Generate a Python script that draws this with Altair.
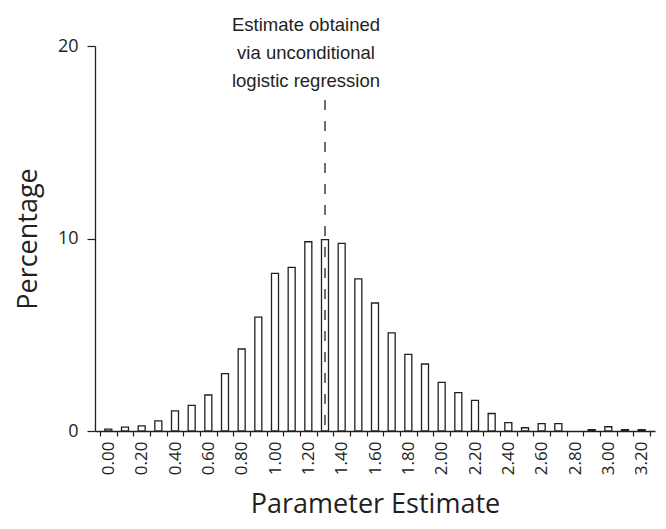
import altair as alt
import pandas as pd

# Bin centres (parameter estimate) and percentage of simulations
centers = [0.00, 0.10, 0.20, 0.30, 0.40, 0.50, 0.60, 0.70, 0.80, 0.90,
           1.00, 1.10, 1.20, 1.30, 1.40, 1.50, 1.60, 1.70, 1.80, 1.90,
           2.00, 2.10, 2.20, 2.30, 2.40, 2.50, 2.60, 2.70, 2.80, 2.90,
           3.00, 3.10, 3.20]
percent = [0.10, 0.20, 0.27, 0.53, 1.05, 1.33, 1.87, 2.98, 4.26, 5.92,
           8.19, 8.50, 9.83, 9.94, 9.75, 7.90, 6.65, 5.10, 3.98, 3.48,
           2.53, 1.99, 1.59, 0.91, 0.43, 0.17, 0.38, 0.38, 0.00, 0.07,
           0.22, 0.07, 0.07]
x_labels = [0.0, 0.2, 0.4, 0.6, 0.8, 1.0, 1.2, 1.4, 1.6, 1.8, 2.0, 2.2,
            2.4, 2.6, 2.8, 3.0, 3.2]
y_ticks = [0, 10, 20]
estimate = 1.30
annotation = ["Estimate obtained", "via unconditional", "logistic regression"]

edges = [round(c - 0.05, 2) for c in centers] + [round(centers[-1] + 0.05, 2)]

df = pd.DataFrame({"center": centers, "pct": percent})

INK = "#231f20"
FONT = "Open Sans"
xscale = alt.Scale(domain=[-0.05, 3.25], nice=False, zero=False)
yscale = alt.Scale(domain=[0, 20], nice=False)

bars = alt.Chart(df).transform_filter("datum.pct > 0").mark_bar(
    size=7, fill="white", stroke=INK, strokeWidth=1.3
).encode(
    x=alt.X("center:Q", scale=xscale,
            axis=alt.Axis(orient="bottom", values=edges, labels=False, title=None,
                          tickSize=5, tickColor=INK, tickWidth=1.2,
                          domainColor=INK, domainWidth=1.3, grid=False)),
    y=alt.Y("pct:Q", scale=yscale,
            axis=alt.Axis(orient="left", values=y_ticks, title="Percentage", tickSize=8,
                          tickColor=INK, tickWidth=1.2, domainColor=INK,
                          domainWidth=1.3, labelFont=FONT, labelFontSize=18,
                          labelColor=INK, labelPadding=9, titleFont=FONT,
                          titleFontSize=27, titleFontWeight="normal",
                          titleColor=INK, titlePadding=15, grid=False)),
)

rule_df = pd.DataFrame({"x": [estimate], "y": [17.2], "y2": [-0.1]})
rule = alt.Chart(rule_df).mark_rule(
    color=INK, strokeWidth=1.3, strokeDash=[10, 11]
).encode(
    x=alt.X("x:Q", scale=xscale,
            axis=alt.Axis(orient="bottom", values=x_labels, format=".2f",
                          ticks=False, domain=False, labelAngle=-90,
                          labelFont=FONT, labelFontSize=17, labelColor=INK,
                          labelPadding=10, title="Parameter Estimate",
                          titleFont=FONT, titleFontSize=27,
                          titleFontWeight="normal", titleColor=INK,
                          titlePadding=17, grid=False)),
    y=alt.Y("y:Q", scale=yscale, axis=None),
    y2="y2:Q",
)

ann_df = pd.DataFrame({"x": [estimate], "y": [20.0], "label": ["\n".join(annotation)]})
ann = alt.Chart(ann_df).mark_text(
    font="Liberation Sans", fontSize=18.5, color=INK, align="center",
    baseline="middle", lineBreak="\n", lineHeight=28, dx=-19, dy=-21
).encode(
    x=alt.X("x:Q", scale=xscale, axis=None),
    y=alt.Y("y:Q", scale=yscale, axis=None),
    text="label:N",
)

chart = alt.layer(bars, rule, ann).resolve_axis(
    x="independent", y="independent"
).properties(
    width=560, height=385,
    autosize=alt.AutoSizeParams(type="none"),
    padding={"left": 87, "top": 38, "right": 2, "bottom": 90},
).configure_view(stroke=None)

chart.save("out.html", embed_options={"renderer": "svg", "actions": False})
